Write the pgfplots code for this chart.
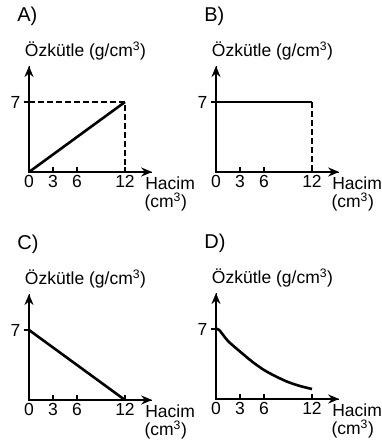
\documentclass[border=0pt]{standalone}
\usepackage{fontspec}
\setmainfont{Liberation Sans}
\usepackage{pgfplots}
\pgfplotsset{compat=1.18}
\usetikzlibrary{arrows.meta}

\newcommand{\lbl}{\fontsize{17.5}{20}\selectfont}

\pgfplotsset{
  panel/.style={
    scale only axis,
    width=123.2pt, height=106pt,
    xmin=0, xmax=15.4, ymin=0, ymax=10.6,
    axis lines*=left,
    xtick={0,3,6,12}, ytick={7},
    xtick align=inside, ytick align=outside,
    major tick length=5pt,
    tick style={line width=1.4pt, black},
    /pgf/number format/assume math mode=true,
    tick label style={font=\lbl},
    clip=false,
    anchor=south west,
  },
  curve/.style={line width=2.6pt, black},
  guide/.style={line width=1.6pt, black, dash pattern=on 6pt off 3pt},
}

% axes with arrow heads, then the panel texts
\newcommand{\panelframe}[1]{%
  \draw[line width=1.9pt, black, line cap=rect, -{Stealth[length=11pt,width=9pt]}]
    (axis cs:0,0) -- (axis cs:15.4,0);
  \draw[line width=1.9pt, black, line cap=rect, -{Stealth[length=11pt,width=9pt]}]
    (axis cs:0,0) -- (axis cs:0,10.6);
  \node[anchor=west, font=\fontsize{20}{22}\selectfont] at (axis cs:-1.9,15.6) {#1)};
  \node[anchor=west, font=\lbl] at (axis cs:-0.95,12.1) {Özkütle (g/cm\textsuperscript{3})};
  \node[anchor=west, font=\lbl] at (axis cs:14.1,-1.1) {Hacim};
  \node[anchor=west, font=\lbl] at (axis cs:14.0,-3.0) {(cm\textsuperscript{3})};
}

\begin{document}
\begin{tikzpicture}
\useasboundingbox (0,0) rectangle (382pt,-445pt);

% A
\begin{axis}[panel, at={(29pt,-172pt)}]
  \addplot[guide] coordinates {(0,7) (12,7) (12,0)};
  \addplot[curve] coordinates {(0,0) (12,7)};
  \panelframe{A}
\end{axis}

% B
\begin{axis}[panel, at={(216pt,-172pt)}]
  \addplot[guide] coordinates {(12,7) (12,0)};
  \addplot[curve] coordinates {(0,7) (12,7)};
  \panelframe{B}
\end{axis}

% C
\begin{axis}[panel, at={(29pt,-400pt)}]
  \addplot[curve] coordinates {(0,7) (12,0)};
  \panelframe{C}
\end{axis}

% D
\begin{axis}[panel, at={(216pt,-399pt)}]
  \addplot[curve, smooth] coordinates {
    (0,7) (0.4,6.9) (1.5,5.8) (3,4.75) (4.5,3.75) (6,2.9) (7.5,2.25) (9,1.7) (10.5,1.3) (12,1.0)
  };
  \panelframe{D}
\end{axis}
\end{tikzpicture}
\end{document}
